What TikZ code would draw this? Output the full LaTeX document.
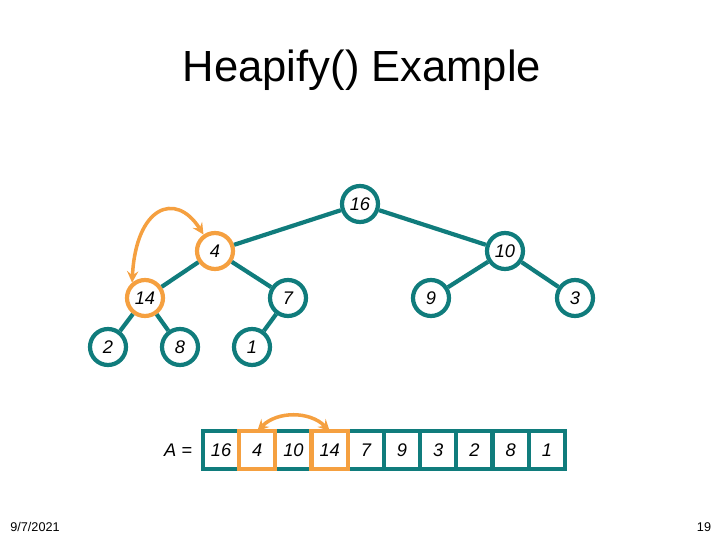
\documentclass[tikz,border=0pt]{standalone}
\usepackage{fontspec}
\setmainfont{Liberation Sans}
\definecolor{heapteal}{RGB}{16,124,124}
\definecolor{swaporange}{RGB}{245,160,64}
\begin{document}
\begin{tikzpicture}[
    heapnode/.style={circle, draw=heapteal, line width=3pt, fill=white, minimum size=0.9cm, inner sep=0pt, font=\itshape\fontsize{13}{15}\selectfont},
    cell/.style={draw=heapteal, line width=3pt, fill=white, minimum width=0.905cm, minimum height=0.95cm, inner sep=0pt, outer sep=0pt, font=\itshape\fontsize{13}{15}\selectfont},
    edge/.style={heapteal, line width=3pt},
    swap/.style={swaporange, line width=2.5pt, >=stealth}
]
    \useasboundingbox (0,0) rectangle (18,13.5);

    % Title
    \node[font=\fontsize{31}{36}\selectfont] (title) at (9.05, 11.75) {Heapify() Example};

    % Tree nodes
    \node[heapnode] (n16) at (9.0, 8.4) {16};
    \node[heapnode, draw=swaporange] (n4) at (5.375, 7.225) {4};
    \node[heapnode] (n10) at (12.625, 7.225) {10};
    \node[heapnode, draw=swaporange] (n14) at (3.625, 6.05) {14};
    \node[heapnode] (n7) at (7.2, 6.05) {7};
    \node[heapnode] (n9) at (10.775, 6.05) {9};
    \node[heapnode] (n3) at (14.375, 6.05) {3};
    \node[heapnode] (n2) at (2.7, 4.825) {2};
    \node[heapnode] (n8) at (4.5, 4.825) {8};
    \node[heapnode] (n1) at (6.3, 4.825) {1};

    % Edges
    \foreach \a/\b in {n16/n4, n16/n10, n4/n14, n4/n7, n10/n9, n10/n3, n14/n2, n14/n8, n7/n1}
        \draw[edge] (\a) -- (\b);

    % Swap in the tree
    \draw[swap, <->] (n14.130) .. controls +(0.1,1.9) and +(-0.7,1.1) .. (n4.125);

    % Array
    \node[font=\itshape\fontsize{13}{15}\selectfont] (alabel) at (4.45, 2.25) {A =};
    \foreach \v [count=\i] in {16,4,10,14,7,9,3,2,8,1}
        \node[cell] (a\i) at ({4.622+0.905*\i}, 2.25) {\v};
    \foreach \i in {2,4}
        \draw[swaporange, line width=3pt] (a\i.north west) rectangle (a\i.south east);

    % Swap in the array
    \draw[swap, <->] (a2.north) to[bend left=45] (a4.north);

    % Footer
    \node[font=\fontsize{9}{11}\selectfont] (date) at (0.875, 0.325) {9/7/2021};
    \node[font=\fontsize{9}{11}\selectfont] (page) at (17.6, 0.325) {19};
\end{tikzpicture}
\end{document}
